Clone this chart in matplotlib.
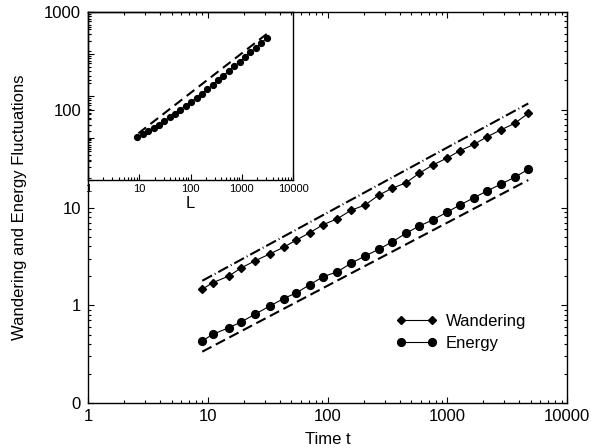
import matplotlib
matplotlib.use("Agg")
import matplotlib.pyplot as plt
from matplotlib.ticker import NullFormatter

plt.rcParams['font.family'] = ['Liberation Sans', 'DejaVu Sans']
plt.rcParams['lines.scale_dashes'] = False

tempo = [9, 11, 15, 19, 25, 33, 43, 55, 71, 92, 121, 157, 206, 268, 346,
         452, 584, 756, 989, 1278, 1672, 2160, 2795, 3659, 4752]
wandering = [1.46, 1.70, 1.99, 2.41, 2.86, 3.35, 3.92, 4.65, 5.52, 6.67, 7.68,
             9.36, 10.6, 13.4, 15.7, 17.9, 22.4, 27.2, 31.9, 38.1, 44.3, 53.0,
             62.1, 72.6, 92.0]
energy = [0.431, 0.504, 0.589, 0.674, 0.814, 0.982, 1.17, 1.34, 1.62, 1.96,
          2.20, 2.69, 3.19, 3.74, 4.44, 5.45, 6.47, 7.45, 8.93, 10.6, 12.6,
          14.8, 17.3, 20.4, 24.6]

# Retas de referencia (extremos)
guia_t = [9, 4750]
guia_sup = [1.78, 116]
guia_inf = [0.335, 19.1]

# Dados do inset (tamanho L)
tam_L = [9.2, 11.7, 14.9, 19.0, 24.2, 30.8, 39.2, 49.9, 63.5, 80.9, 103, 131,
         167, 213, 271, 345, 440, 560, 713, 908, 1156, 1472, 1875, 2388, 3041]
inset_y = [10.4, 12.3, 14.4, 17.3, 20.7, 25.4, 31.1, 37.9, 47.2, 58.7, 73.2,
           91.1, 113, 144, 183, 237, 304, 394, 510, 656, 849, 1098, 1413,
           1828, 2365]
guia_L = [9.6, 3070]
guia_Ly = [12.9, 2994]

xticks = [1, 10, 100, 1000, 10000]
xlabels = ['1', '10', '100', '1000', '10000']
yticks = [0.1, 1, 10, 100, 1000]
ylabels = ['0', '1', '10', '100', '1000']

fig = plt.figure(figsize=(5.91, 4.48), dpi=100)
fig.patch.set_facecolor('white')

# Inset
ins = fig.add_axes([88 / 591, 1 - 180 / 448, 205 / 591, 168 / 448])
ins.set_zorder(1)
ins.set_xscale('log')
ins.set_yscale('log')
ins.plot(tam_L, inset_y, 'k-', marker='o', ms=4.2, lw=0.8)
ins.plot(guia_L, guia_Ly, color='k', lw=1.5, dashes=[7, 4])
ins.set_xlim(1, 1e4)
ins.set_ylim(1, 1e4)
ins.set_xticks(xticks)
ins.set_xticklabels(xlabels)
ins.yaxis.set_major_formatter(NullFormatter())
ins.yaxis.set_minor_formatter(NullFormatter())
ins.xaxis.set_minor_formatter(NullFormatter())
ins.tick_params(which='both', direction='in', top=False, right=False,
                labelsize=8, pad=3)
ins.tick_params(which='major', length=4, width=0.8)
ins.tick_params(which='minor', length=2.5, width=0.8)
ins.set_xlabel('L', fontsize=12, labelpad=1)
for s in ins.spines.values():
    s.set_linewidth(1.0)

# Grafico principal
ax = fig.add_axes([88 / 591, 1 - 403 / 448, 479 / 591, 391 / 448])
ax.set_zorder(2)
ax.patch.set_facecolor('none')
ax.set_xscale('log')
ax.set_yscale('log')
ax.plot(tempo, wandering, 'k-', marker='D', ms=4.5, lw=0.8, label='Wandering')
ax.plot(tempo, energy, 'k-', marker='o', ms=5.6, lw=0.8, label='Energy')
ax.plot(guia_t, guia_sup, color='k', lw=1.5, dashes=[8, 2.2, 0.7, 2.2])
ax.plot(guia_t, guia_inf, color='k', lw=1.5, dashes=[7.5, 3.5])
ax.set_xlim(1, 1e4)
ax.set_ylim(0.1, 1000)
ax.set_xticks(xticks)
ax.set_xticklabels(xlabels)
ax.set_yticks(yticks)
ax.set_yticklabels(ylabels)
ax.xaxis.set_minor_formatter(NullFormatter())
ax.yaxis.set_minor_formatter(NullFormatter())
ax.tick_params(which='both', direction='in', top=True, right=True, labelsize=12)
ax.tick_params(axis='x', pad=4)
ax.tick_params(axis='y', pad=5)
ax.tick_params(which='major', length=4.5, width=0.8)
ax.tick_params(which='minor', length=2.5, width=0.8)
ax.set_xlabel('Time t', fontsize=12, labelpad=6)
ax.set_ylabel('Wandering and Energy Fluctuations', fontsize=12, labelpad=12)
for s in ax.spines.values():
    s.set_linewidth(1.0)

ax.legend(loc='upper left', bbox_to_anchor=(0.642, 0.228), frameon=False,
          numpoints=2, handlelength=2.5, handletextpad=0.5, labelspacing=0.4,
          borderpad=0, borderaxespad=0, fontsize=12)

fig.savefig('out.png', dpi=100)
